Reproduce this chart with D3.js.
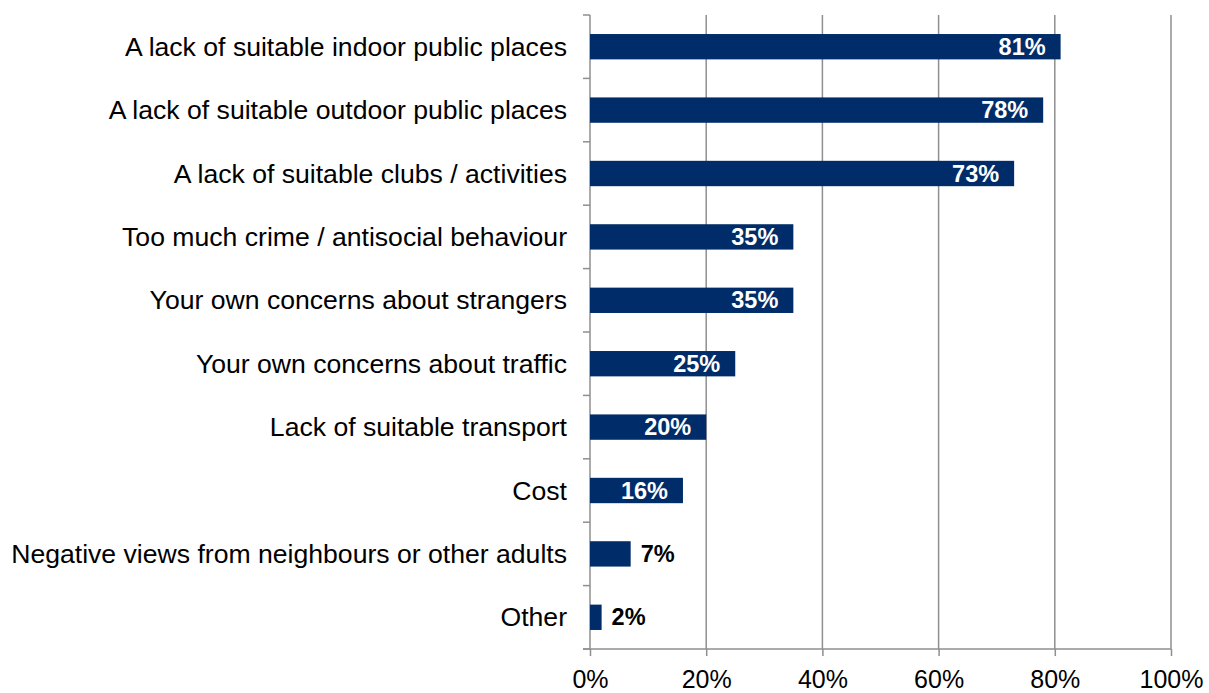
<!DOCTYPE html>
<html>
<head>
<meta charset="utf-8">
<script src="https://cdn.jsdelivr.net/npm/d3@7"></script>
<style>
  html, body { margin: 0; padding: 0; background: #fff; }
  svg { display: block; font-family: "Liberation Sans", Arial, sans-serif; }
</style>
</head>
<body>
<svg id="chart" width="1209" height="693"></svg>
<script>
// Reasons cited, share of respondents (%)
const categories = [
  "A lack of suitable indoor public places",
  "A lack of suitable outdoor public places",
  "A lack of suitable clubs / activities",
  "Too much crime / antisocial behaviour",
  "Your own concerns about strangers",
  "Your own concerns about traffic",
  "Lack of suitable transport",
  "Cost",
  "Negative views from neighbours or other adults",
  "Other"
];
const values = [81, 78, 73, 35, 35, 25, 20, 16, 7, 2];
const xTicks = [0, 20, 40, 60, 80, 100];

const svg = d3.select("#chart");
const plotLeft = 590, plotRight = 1171, plotTop = 15, plotBottom = 649;
const barColor = "#002D69";
const gridColor = "#8F8F8F";

const x = d3.scaleLinear().domain([0, 100]).range([plotLeft, plotRight]);
const y = d3.scaleBand().domain(categories).range([plotTop, plotBottom])
  .paddingInner(0.6).paddingOuter(0.3);

// vertical gridlines
svg.append("g").selectAll("line").data(xTicks.filter(d => d > 0)).join("line")
  .attr("x1", d => x(d)).attr("x2", d => x(d))
  .attr("y1", plotTop).attr("y2", plotBottom)
  .attr("stroke", gridColor).attr("stroke-width", 1.5);

// bottom axis
const xAxis = d3.axisBottom(x).tickValues(xTicks).tickFormat(d => d + "%")
  .tickSize(7).tickPadding(14);
const gx = svg.append("g").attr("transform", `translate(0,${plotBottom})`).call(xAxis);
gx.select(".domain").remove();
gx.append("line").attr("x1", plotLeft - 7).attr("x2", plotRight).attr("y1", 0).attr("y2", 0)
  .attr("stroke", gridColor).attr("stroke-width", 1.5);
gx.selectAll(".tick line").attr("stroke", gridColor).attr("stroke-width", 1.5);
gx.selectAll(".tick text").attr("fill", "#000").attr("font-size", 25)
  .attr("font-family", "'Liberation Sans', Arial, sans-serif");

// left axis with ticks on category boundaries
const bounds = d3.range(categories.length + 1).map(i => plotTop + i * y.step());
const gy = svg.append("g");
gy.append("line").attr("x1", plotLeft).attr("x2", plotLeft).attr("y1", plotTop).attr("y2", plotBottom)
  .attr("stroke", gridColor).attr("stroke-width", 1.5);
gy.selectAll("line.tk").data(bounds).join("line").attr("class", "tk")
  .attr("x1", plotLeft - 7).attr("x2", plotLeft).attr("y1", d => d).attr("y2", d => d)
  .attr("stroke", gridColor).attr("stroke-width", 1.5);

// category labels
svg.append("g").selectAll("text").data(categories).join("text")
  .attr("x", 567).attr("y", d => y(d) + y.bandwidth() / 2)
  .attr("text-anchor", "end").attr("dominant-baseline", "central")
  .attr("font-size", 26.6).attr("fill", "#000").text(d => d);

const data = categories.map((c, i) => ({ c, v: values[i] }));

// bars
svg.append("g").selectAll("rect").data(data).join("rect")
  .attr("x", x(0)).attr("y", d => y(d.c))
  .attr("width", d => x(d.v) - x(0)).attr("height", y.bandwidth())
  .attr("fill", barColor);

// value labels: inside for long bars, outside for short ones
svg.append("g").selectAll("text").data(data).join("text")
  .attr("x", d => d.v >= 10 ? x(d.v) - 15 : x(d.v) + 10)
  .attr("y", d => y(d.c) + y.bandwidth() / 2)
  .attr("text-anchor", d => d.v >= 10 ? "end" : "start")
  .attr("dominant-baseline", "central")
  .attr("font-size", 23.5).attr("font-weight", "bold")
  .attr("fill", d => d.v >= 10 ? "#fff" : "#000")
  .text(d => d.v + "%");
</script>
</body>
</html>
